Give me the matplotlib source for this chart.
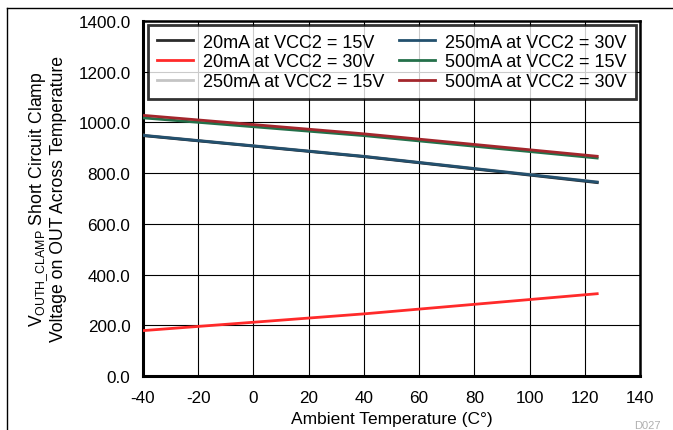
import numpy as np
import matplotlib
matplotlib.use('Agg')
import matplotlib.pyplot as plt
from matplotlib.lines import Line2D

plt.rcParams['font.family'] = ['Liberation Sans', 'DejaVu Sans']
plt.rcParams['mathtext.fontset'] = 'custom'
plt.rcParams['mathtext.rm'] = 'Liberation Sans'
plt.rcParams['axes.unicode_minus'] = False

# Ambient temperature (C)
temps = [-40, 40, 125]

# Clamp voltage
v_20ma_15v = [948, 865, 762]
v_20ma_30v = [179, 245, 325]
v_250ma_15v = [950, 867, 765]
v_250ma_30v = [949, 866, 764]
v_500ma_15v = [1018, 948, 859]
v_500ma_30v = [1028, 955, 866]

labels = ['20mA at VCC2 = 15V', '20mA at VCC2 = 30V', '250mA at VCC2 = 15V',
          '250mA at VCC2 = 30V', '500mA at VCC2 = 15V', '500mA at VCC2 = 30V']
colors = ['#2b2b2b', '#ff2a2a', '#c4c4c4', '#23506e', '#24704a', '#a3262c']

fig = plt.figure(figsize=(6.73, 4.31), dpi=100)
ax = fig.add_axes([143/673, 1-377/431, 497/673, 355/431])

series = [v_20ma_15v, v_20ma_30v, v_250ma_15v, v_250ma_30v, v_500ma_15v, v_500ma_30v]
draw_order = [2, 0, 3, 4, 5, 1]
for i in draw_order:
    ax.plot(temps, series[i], color=colors[i], lw=2.0, solid_capstyle='butt', zorder=3)

ax.set_xlim(-40, 140)
ax.set_ylim(0, 1400)
ax.set_xticks(np.arange(-40, 141, 20))
ax.set_yticks(np.arange(0, 1401, 200))
ax.set_yticklabels(['%.1f' % v for v in np.arange(0, 1401, 200)])
ax.grid(True, color='black', lw=0.8)
ax.set_axisbelow(True)
ax.tick_params(length=0, labelsize=12.3)
ax.tick_params(axis='x', pad=10)
ax.tick_params(axis='y', pad=9)
for side in ['left', 'bottom']:
    ax.spines[side].set_linewidth(2.2)
for side in ['top', 'right']:
    ax.spines[side].set_linewidth(1.8)

ax.set_xlabel('Ambient Temperature (C°)', fontsize=12.5, labelpad=4.5)
ax.set_ylabel('V$_{\\mathregular{OUTH\\_CLAMP}}$ Short Circuit Clamp\nVoltage on OUT Across Temperature',
              fontsize=12.7, labelpad=8, linespacing=1.0)

handles = [Line2D([], [], color=c, lw=2.0) for c in colors]
leg = ax.legend(handles, labels, ncol=2,
                loc='upper left', bbox_to_anchor=(0.01, 0.99), borderaxespad=0,
                fontsize=13, frameon=True, fancybox=False, edgecolor='black',
                handlelength=2.0, handletextpad=0.55, columnspacing=0.8,
                labelspacing=0.15, borderpad=0.5)
leg.get_frame().set_linewidth(2.0)
leg.set_zorder(5)

# figure border
fig.add_artist(Line2D([7/673, 7/673], [0, 1-9/431], color='black', lw=1.0))
fig.add_artist(Line2D([7/673, 1], [1-9/431, 1-9/431], color='black', lw=1.0))
fig.text(634/673, 0, 'D027', fontsize=8, color='#b0b0b0', va='bottom')

fig.savefig('out.png', dpi=100)
